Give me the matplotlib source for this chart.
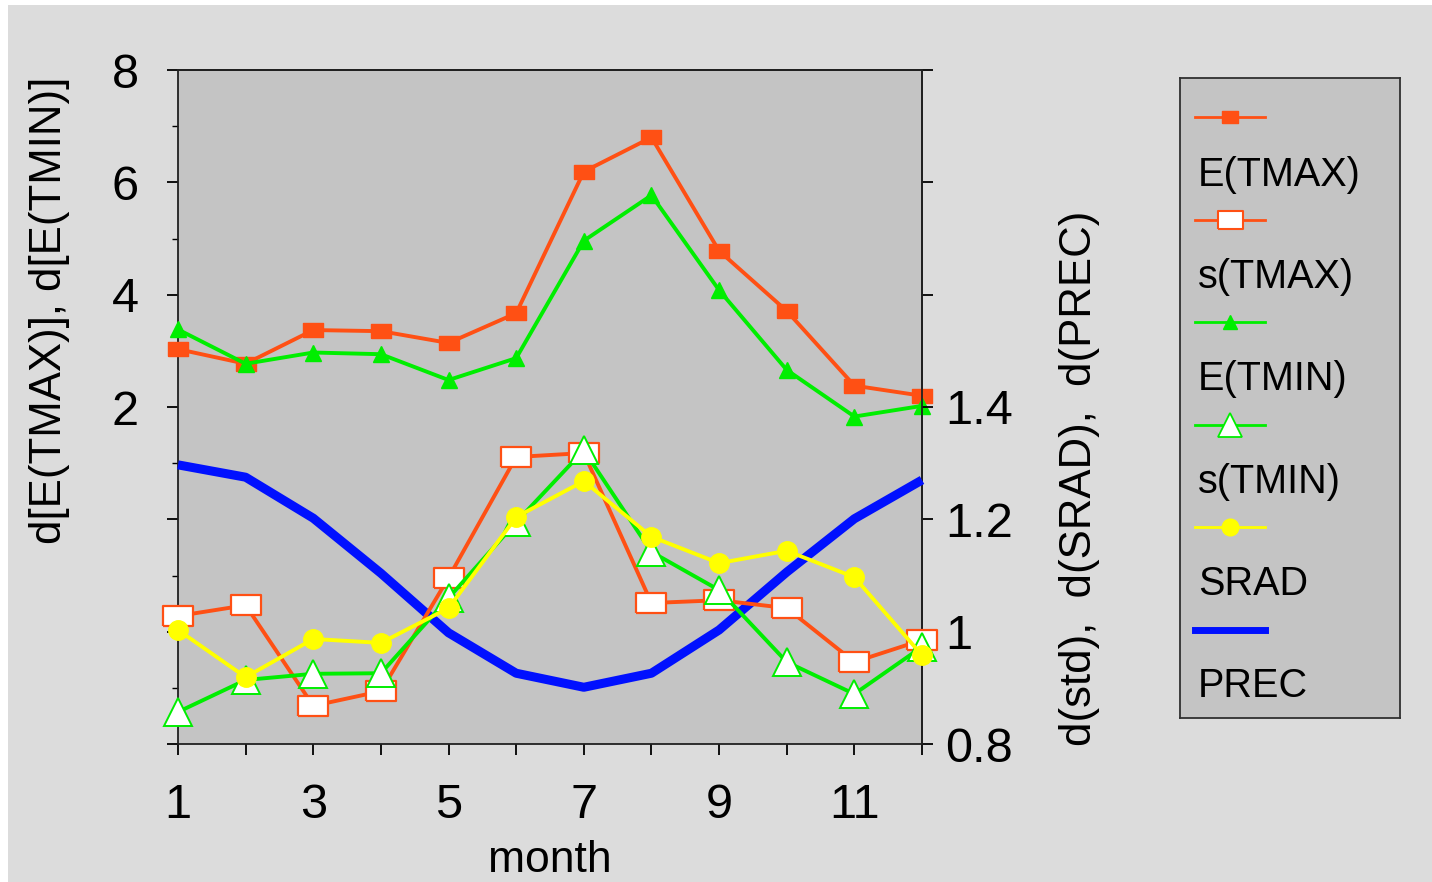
import matplotlib
matplotlib.use("Agg")
import matplotlib.pyplot as plt
from matplotlib.lines import Line2D
from matplotlib.patches import Rectangle
from matplotlib.ticker import MultipleLocator, FixedLocator, FuncFormatter

plt.rcParams['font.family'] = ['Liberation Sans', 'DejaVu Sans']

months = list(range(1, 13))
e_tmax = [3.03, 2.77, 3.37, 3.35, 3.14, 3.67, 6.19, 6.80, 4.78, 3.71, 2.38, 2.20]
e_tmin = [3.38, 2.77, 2.97, 2.94, 2.48, 2.87, 4.96, 5.77, 4.08, 2.66, 1.83, 2.02]
s_tmax = [1.028, 1.047, 0.868, 0.894, 1.096, 1.311, 1.318, 1.051, 1.056, 1.042, 0.946, 0.985]
s_tmin = [0.857, 0.914, 0.925, 0.926, 1.060, 1.195, 1.323, 1.142, 1.074, 0.946, 0.889, 0.973]
srad = [1.003, 0.919, 0.987, 0.980, 1.042, 1.204, 1.268, 1.169, 1.122, 1.144, 1.097, 0.958]
prec = [1.297, 1.275, 1.202, 1.104, 0.998, 0.926, 0.901, 0.926, 1.003, 1.106, 1.201, 1.270]
labels = ['E(TMAX)', 's(TMAX)', 'E(TMIN)', 's(TMIN)', 'SRAD', 'PREC']

W, H = 1432, 882
fig = plt.figure(figsize=(W / 100, H / 100), dpi=100, facecolor='white')
fig.patches.append(Rectangle((8 / W, 0), 1 - 8 / W, 1 - 5 / H, transform=fig.transFigure,
                             facecolor='#dcdcdc', edgecolor='none', zorder=-10))

ORANGE = '#ff5014'
GREEN = '#00ee00'
YELLOW = '#ffff00'
BLUE = '#0010ff'
PANEL = '#c4c4c4'

rect = [(-1.45, -1), (1.45, -1), (1.45, 1), (-1.45, 1), (-1.45, -1)]

ax = fig.add_axes([178 / W, 1 - 744 / H, (922 - 178) / W, (744 - 70) / H])
ax.set_facecolor(PANEL)
ax2 = ax.twinx()

ax.set_xlim(1, 12)
ax.set_ylim(-4, 8)
ax2.set_ylim(0.8, 2.0)

lw = 2.8
ax.plot(months, e_tmax, color=ORANGE, lw=lw, marker=rect, ms=15, mfc=ORANGE, mec=ORANGE, clip_on=False, zorder=5)
ax.plot(months, e_tmin, color=GREEN, lw=lw, marker='^', ms=12, mfc=GREEN, mec=GREEN, clip_on=False, zorder=5)
ax2.plot(months, prec, color=BLUE, lw=6.5, solid_capstyle='butt', clip_on=False, zorder=3)
ax2.plot(months, s_tmax, color=ORANGE, lw=lw, marker=rect, ms=21, mfc='white', mec=ORANGE, mew=1.6, clip_on=False, zorder=4)
ax2.plot(months, s_tmin, color=GREEN, lw=lw, marker='^', ms=20, mfc='white', mec=GREEN, mew=1.4, clip_on=False, zorder=5)
ax2.plot(months, srad, color=YELLOW, lw=lw, marker='o', ms=14, mfc=YELLOW, mec=YELLOW, clip_on=False, zorder=6)

for a in (ax, ax2):
    for s in a.spines.values():
        s.set_linewidth(1.3)
        s.set_color('#202020')
ax.spines['bottom'].set_visible(False)
ax2.spines['bottom'].set_visible(False)
ax2.spines['left'].set_visible(False)

TS = 35
# x axis
ax.xaxis.set_major_locator(FixedLocator(months))
ax.xaxis.set_major_formatter(FuncFormatter(lambda v, p: str(int(v)) if int(v) % 2 == 1 else ''))
ax.tick_params(axis='x', direction='out', length=8, width=1.3, labelsize=TS, pad=20)
ax.axhline(-4, color='#202020', lw=1.3, clip_on=False, zorder=10)
ax.set_xlabel('month', fontsize=32, labelpad=9)

# left axis
ax.yaxis.set_major_locator(MultipleLocator(2))
ax.yaxis.set_minor_locator(MultipleLocator(1))
ax.yaxis.set_major_formatter(FuncFormatter(lambda v, p: '%d' % v if v >= 2 else ''))
ax.tick_params(axis='y', which='major', direction='out', length=8, width=1.3, labelsize=TS, pad=20)
ax.tick_params(axis='y', which='minor', direction='out', length=4.5, width=1.0)

# right axis
ax2.yaxis.set_major_locator(MultipleLocator(0.2))
ax2.yaxis.set_major_formatter(FuncFormatter(lambda v, p: ('%g' % round(v, 1)) if v < 1.5 else ''))
ax2.tick_params(axis='y', which='major', direction='out', length=8, width=1.3, labelsize=TS, pad=9)

fig.text(50 / W, 1 - 310 / H, 'd[E(TMAX)], d[E(TMIN)]', rotation=90, ha='center', va='center', fontsize=31.5)
fig.text(1080 / W, 1 - 478 / H, 'd(std),  d(SRAD),  d(PREC)', rotation=90, ha='center', va='center', fontsize=31.5)

# legend panel
lax = fig.add_axes([1180 / W, 1 - 718 / H, (1400 - 1180) / W, (718 - 78) / H])
lax.set_xlim(1180, 1400)
lax.set_ylim(718, 78)
lax.set_facecolor(PANEL)
lax.set_xticks([])
lax.set_yticks([])
for s in lax.spines.values():
    s.set_linewidth(1.3)
    s.set_color('#303030')

styles = [
    dict(color=ORANGE, lw=2, marker=rect, ms=12, mfc=ORANGE, mec=ORANGE),
    dict(color=ORANGE, lw=2, marker=rect, ms=18, mfc='white', mec=ORANGE, mew=1.5),
    dict(color=GREEN, lw=2, marker='^', ms=10, mfc=GREEN, mec=GREEN),
    dict(color=GREEN, lw=2, marker='^', ms=17, mfc='white', mec=GREEN, mew=1.3),
    dict(color=YELLOW, lw=2, marker='o', ms=12, mfc=YELLOW, mec=YELLOW),
    dict(color=BLUE, lw=5, marker=None),
]
for i, (lab, st) in enumerate(zip(labels, styles)):
    y_line = 117 + i * 102.6
    y_text = 175 + i * 102.2
    lax.add_line(Line2D([1195, 1265], [y_line, y_line], markevery=[], **st))
    if st.get('marker') is not None:
        mk = dict(st)
        mk['lw'] = 0
        lax.add_line(Line2D([1230], [y_line], **mk))
    lax.text(1198, y_text, lab, fontsize=28.5, ha='left', va='center')

fig.savefig('out.png', dpi=100, facecolor=fig.get_facecolor())
